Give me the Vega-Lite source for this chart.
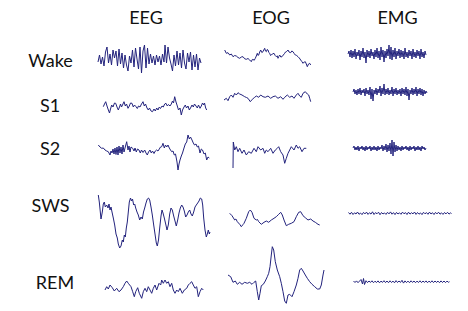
{
"$schema": "https://vega.github.io/schema/vega-lite/v6.json",
"background": "white",
"padding": 0,
"columns": 4,
"spacing": {"row": 0, "column": 10},
"align": "each",
"bounds": "flush",
"config": {"view": {"stroke": null}, "line": {"color": "#23237d", "strokeWidth": 1}, "text": {"font": "Lato", "fontSize": 18, "color": "#111111"}},
"datasets": {
"wakeEEG": [{"t":2,"v":-2},{"t":3.5,"v":5},{"t":5,"v":-4},{"t":6.5,"v":3},{"t":8,"v":-6},{"t":9.5,"v":8},{"t":11,"v":13},{"t":12.5,"v":-3},{"t":14,"v":6},{"t":15.5,"v":-5},{"t":17,"v":10},{"t":18.5,"v":2},{"t":20,"v":9},{"t":21.5,"v":-6},{"t":23,"v":11},{"t":24.5,"v":-4},{"t":26,"v":7},{"t":27.5,"v":-8},{"t":29,"v":5},{"t":30.5,"v":-5},{"t":32,"v":-11},{"t":33.5,"v":4},{"t":35,"v":-3},{"t":36.5,"v":10},{"t":38,"v":-7},{"t":39.5,"v":12},{"t":41,"v":1},{"t":42.5,"v":-9},{"t":44,"v":13},{"t":45.5,"v":-13},{"t":47,"v":9},{"t":48.5,"v":15},{"t":50,"v":-8},{"t":51.5,"v":12},{"t":53,"v":-4},{"t":54.5,"v":6},{"t":56,"v":-3},{"t":57.5,"v":4},{"t":59,"v":-5},{"t":60.5,"v":5},{"t":62,"v":-2},{"t":63.5,"v":4},{"t":65,"v":-5},{"t":66.5,"v":6},{"t":68,"v":-2},{"t":69,"v":15},{"t":70.5,"v":-3},{"t":72,"v":13},{"t":73.5,"v":2},{"t":75,"v":-4},{"t":76.5,"v":-11},{"t":78,"v":5},{"t":79.5,"v":-6},{"t":81,"v":9},{"t":82.5,"v":-5},{"t":84,"v":7},{"t":85.5,"v":-8},{"t":87,"v":10},{"t":88.5,"v":-3},{"t":90,"v":-9},{"t":91.5,"v":7},{"t":93,"v":-2},{"t":94.5,"v":8},{"t":96,"v":-10},{"t":97.5,"v":5},{"t":99,"v":-7},{"t":100.5,"v":6},{"t":102,"v":-10},{"t":103.5,"v":2},{"t":105,"v":-3}],
"s1EEG": [{"t":7.3,"v":-0.7},{"t":8.5,"v":2},{"t":9.7,"v":4.3},{"t":11,"v":0},{"t":12,"v":-3},{"t":13.5,"v":-7},{"t":14.5,"v":-3},{"t":15.7,"v":1},{"t":17,"v":-1},{"t":18.5,"v":3},{"t":19.7,"v":2.7},{"t":21,"v":-1},{"t":22.3,"v":-4},{"t":23.5,"v":-1},{"t":24.5,"v":2},{"t":25.5,"v":-1},{"t":26.5,"v":1},{"t":28,"v":4.3},{"t":29.3,"v":0},{"t":30.5,"v":2},{"t":32,"v":-2.3},{"t":33.3,"v":0},{"t":34.5,"v":3},{"t":36,"v":2.7},{"t":37.3,"v":-1},{"t":38.5,"v":1},{"t":40,"v":-0.7},{"t":41.3,"v":-2.5},{"t":42.5,"v":0},{"t":44,"v":-1},{"t":45.5,"v":2},{"t":47,"v":4.3},{"t":48.3,"v":0},{"t":49.5,"v":2},{"t":51,"v":-2},{"t":52.3,"v":-4},{"t":53.5,"v":-2},{"t":55,"v":-5},{"t":56.5,"v":-5.7},{"t":58,"v":-3},{"t":59.3,"v":-5},{"t":60.7,"v":-2},{"t":62,"v":-4},{"t":63.3,"v":-1},{"t":64.5,"v":-2.5},{"t":66,"v":0},{"t":67.3,"v":-1},{"t":68.7,"v":2},{"t":70,"v":2.7},{"t":71.3,"v":0},{"t":72.5,"v":1.5},{"t":74,"v":0},{"t":75.3,"v":2},{"t":76.5,"v":5},{"t":77.5,"v":3},{"t":78.7,"v":9.3},{"t":80,"v":4},{"t":81.3,"v":0},{"t":82.5,"v":-4},{"t":84,"v":-2},{"t":85.3,"v":-9},{"t":86.5,"v":-4},{"t":88,"v":-1},{"t":89.3,"v":1},{"t":90.5,"v":-2},{"t":92,"v":0},{"t":93.3,"v":-4},{"t":94.5,"v":-2},{"t":96,"v":1},{"t":97.3,"v":-1},{"t":98.5,"v":2},{"t":100,"v":0},{"t":101.3,"v":-2},{"t":102.5,"v":1},{"t":104,"v":-2.3},{"t":105.3,"v":0},{"t":106.5,"v":3},{"t":107.7,"v":1},{"t":108.5,"v":3},{"t":109.7,"v":-2},{"t":110.7,"v":-4}],
"s2EEG": [{"t":2.3,"v":7},{"t":4,"v":5},{"t":5.7,"v":3.7},{"t":7.3,"v":4},{"t":9,"v":2},{"t":10.7,"v":1},{"t":12.3,"v":0.3},{"t":14,"v":-3},{"t":15,"v":1},{"t":16,"v":-1},{"t":17,"v":3},{"t":18,"v":-2},{"t":19,"v":4},{"t":20,"v":-2.5},{"t":21,"v":5},{"t":22,"v":-3},{"t":23,"v":6},{"t":24,"v":-1},{"t":25,"v":5},{"t":26,"v":-2},{"t":27,"v":7},{"t":28,"v":0},{"t":29,"v":4},{"t":30.7,"v":10.3},{"t":32,"v":2},{"t":33,"v":6},{"t":34,"v":0},{"t":35,"v":5},{"t":36.7,"v":3.7},{"t":38,"v":1},{"t":39,"v":4},{"t":40.3,"v":0},{"t":41.5,"v":3},{"t":43,"v":2},{"t":44.3,"v":-1},{"t":45.5,"v":2},{"t":47,"v":-0.5},{"t":48.7,"v":2},{"t":50,"v":-1},{"t":51.3,"v":-3},{"t":52.5,"v":0},{"t":54,"v":2},{"t":55.3,"v":-1},{"t":56.5,"v":1},{"t":58,"v":-1.5},{"t":59.3,"v":1},{"t":60.5,"v":2},{"t":62,"v":1},{"t":63.3,"v":3},{"t":64.5,"v":5},{"t":65.7,"v":5.3},{"t":67,"v":8.7},{"t":68.3,"v":4},{"t":69.5,"v":7},{"t":70.7,"v":5},{"t":72,"v":7},{"t":73.3,"v":4},{"t":74.5,"v":2},{"t":75.7,"v":0.3},{"t":77,"v":1},{"t":78.3,"v":-3},{"t":79.5,"v":-2},{"t":81,"v":-10},{"t":82,"v":-18},{"t":83,"v":-12},{"t":84,"v":-8},{"t":85.3,"v":-4},{"t":86.5,"v":-1},{"t":88,"v":4},{"t":89.3,"v":8},{"t":90.7,"v":10},{"t":92,"v":17},{"t":93.3,"v":13},{"t":94.5,"v":15},{"t":96,"v":12},{"t":97.3,"v":9},{"t":98.5,"v":7},{"t":100,"v":8},{"t":101.3,"v":5},{"t":102.5,"v":6},{"t":104,"v":-1},{"t":105.3,"v":3},{"t":106.5,"v":2},{"t":108,"v":-2},{"t":109.3,"v":-1},{"t":110.7,"v":-8},{"t":112,"v":-5},{"t":113.3,"v":-6}],
"swsEEG": [{"t":2.3,"v":15},{"t":3.3,"v":8},{"t":4,"v":1},{"t":5,"v":-9},{"t":6.3,"v":-2},{"t":7.3,"v":6},{"t":8.3,"v":8},{"t":9.3,"v":3},{"t":10.7,"v":5},{"t":12,"v":2},{"t":13,"v":6},{"t":14,"v":0},{"t":15,"v":3},{"t":16,"v":-2},{"t":17.3,"v":-8},{"t":18.7,"v":-15},{"t":20,"v":-24},{"t":21.3,"v":-28},{"t":22.3,"v":-34},{"t":23.7,"v":-38},{"t":25,"v":-36},{"t":26.3,"v":-30},{"t":27.3,"v":-32},{"t":28.3,"v":-25},{"t":29.3,"v":-27},{"t":30.3,"v":-18},{"t":31.3,"v":-12},{"t":32.3,"v":-2},{"t":33.3,"v":8},{"t":34.5,"v":12},{"t":35.5,"v":9},{"t":36.5,"v":11},{"t":37.7,"v":5},{"t":38.7,"v":6},{"t":39.7,"v":2},{"t":41,"v":-2},{"t":42.3,"v":-5},{"t":43.7,"v":-10},{"t":45,"v":-7},{"t":46.3,"v":-9},{"t":47.5,"v":-2},{"t":48.7,"v":2},{"t":50,"v":7},{"t":51.3,"v":11},{"t":52.5,"v":12},{"t":53.7,"v":10},{"t":55,"v":3},{"t":56.3,"v":-5},{"t":57.7,"v":-15},{"t":59,"v":-24},{"t":60.3,"v":-33},{"t":61.3,"v":-36},{"t":62.5,"v":-30},{"t":63.7,"v":-18},{"t":65,"v":-6},{"t":66,"v":0},{"t":67,"v":-3},{"t":68.3,"v":-8},{"t":69.7,"v":-14},{"t":71,"v":-20},{"t":72.3,"v":-15},{"t":73.7,"v":-4},{"t":75,"v":2},{"t":76.3,"v":0},{"t":77.7,"v":-6},{"t":79,"v":-11},{"t":80.3,"v":-16},{"t":81.7,"v":-10},{"t":83,"v":-3},{"t":84.3,"v":2},{"t":85.7,"v":5},{"t":87,"v":3},{"t":88.3,"v":-1},{"t":89.7,"v":-7},{"t":91,"v":-5},{"t":92.3,"v":-2},{"t":93.7,"v":0},{"t":95,"v":-4},{"t":96.3,"v":-6},{"t":97.7,"v":-2},{"t":99,"v":3},{"t":100.3,"v":5},{"t":101.7,"v":7},{"t":103,"v":9},{"t":104.3,"v":12},{"t":105.7,"v":11},{"t":106.7,"v":5},{"t":107.7,"v":-8},{"t":109,"v":-20},{"t":110.3,"v":-27},{"t":111.3,"v":-24},{"t":112.3,"v":-20},{"t":113.3,"v":-24},{"t":114,"v":-22}],
"remEEG": [{"t":9,"v":-12.5},{"t":10.7,"v":-9.2},{"t":12.3,"v":-11.5},{"t":14,"v":-7.5},{"t":16.3,"v":-10.2},{"t":18.3,"v":-13.5},{"t":20.7,"v":-10.8},{"t":23,"v":-14.2},{"t":25,"v":-12.5},{"t":27.3,"v":-9.2},{"t":29,"v":-5.8},{"t":30.7,"v":-3.5},{"t":32.3,"v":-5.8},{"t":35,"v":-9.2},{"t":36.7,"v":-14.2},{"t":38.3,"v":-19.2},{"t":39.7,"v":-14.2},{"t":41.7,"v":-10.2},{"t":43.3,"v":-15.8},{"t":45.7,"v":-20.8},{"t":47.3,"v":-14.2},{"t":49,"v":-10.8},{"t":50.7,"v":-14.2},{"t":52.3,"v":-9.2},{"t":54,"v":-12.5},{"t":55.7,"v":-15.8},{"t":57.3,"v":-10.8},{"t":59,"v":-7.5},{"t":60.7,"v":-12.5},{"t":63,"v":-5.8},{"t":64.7,"v":-7.5},{"t":65.7,"v":-2.5},{"t":67.3,"v":-5.8},{"t":69,"v":-2.5},{"t":70.7,"v":-5.8},{"t":72.3,"v":-4.2},{"t":74,"v":-9.2},{"t":75.7,"v":-5.8},{"t":77.3,"v":-12.5},{"t":79,"v":-15.8},{"t":80.7,"v":-12.5},{"t":82.3,"v":-14.2},{"t":84,"v":-10.8},{"t":86.3,"v":-15.8},{"t":88.3,"v":-12.5},{"t":90.7,"v":-10.8},{"t":92.3,"v":-7.5},{"t":94,"v":-5.8},{"t":95.7,"v":-4.2},{"t":97.3,"v":-7.5},{"t":99,"v":-10.8},{"t":100.7,"v":-9.2},{"t":102.3,"v":-19.2},{"t":104,"v":-14.2},{"t":105.7,"v":-10.8},{"t":107.3,"v":-12.5}],
"wakeEOG": [{"t":2.7,"v":10},{"t":4.3,"v":6.7},{"t":6,"v":7.3},{"t":7.7,"v":5},{"t":9.3,"v":6},{"t":11,"v":3.3},{"t":12.7,"v":4.5},{"t":14.3,"v":4},{"t":16,"v":2.5},{"t":17.7,"v":1.7},{"t":19.3,"v":3},{"t":21,"v":3.3},{"t":22.7,"v":1.2},{"t":24.3,"v":0.7},{"t":26,"v":1.5},{"t":27.7,"v":0},{"t":29.3,"v":-1.7},{"t":30.3,"v":0.5},{"t":31,"v":0.7},{"t":32.2,"v":-0.3},{"t":33.3,"v":1.7},{"t":34.3,"v":4},{"t":35.3,"v":6.7},{"t":36,"v":4.5},{"t":36.7,"v":5},{"t":37.7,"v":8},{"t":38.7,"v":10},{"t":39.8,"v":7.5},{"t":41,"v":8.3},{"t":41.8,"v":10},{"t":42.7,"v":11.7},{"t":43.5,"v":9},{"t":44.3,"v":8.3},{"t":45.2,"v":10.5},{"t":46,"v":10},{"t":46.8,"v":7.5},{"t":47.7,"v":6.7},{"t":48.5,"v":4.5},{"t":49.3,"v":5},{"t":50.3,"v":6},{"t":52,"v":6.7},{"t":53.2,"v":4.5},{"t":54.3,"v":3.3},{"t":55.2,"v":4.2},{"t":56,"v":1.7},{"t":56.8,"v":3.5},{"t":57.7,"v":5},{"t":58.8,"v":3},{"t":60,"v":3.3},{"t":61.3,"v":5},{"t":62.7,"v":6.7},{"t":63.5,"v":8},{"t":64.3,"v":8.3},{"t":65.2,"v":9},{"t":66,"v":10},{"t":67,"v":8},{"t":68.7,"v":7.3},{"t":69.8,"v":9},{"t":71,"v":8.3},{"t":72.2,"v":6.5},{"t":73.3,"v":5},{"t":74.7,"v":4.5},{"t":76,"v":3.3},{"t":77.3,"v":2},{"t":78.7,"v":0},{"t":79.8,"v":-1.5},{"t":81,"v":-3.3},{"t":82.2,"v":-2},{"t":83.3,"v":-1.7},{"t":84.3,"v":-4},{"t":85.3,"v":-6.7},{"t":86.5,"v":-4},{"t":87.7,"v":-3.3},{"t":88.7,"v":-5}],
"s1EOG": [{"t":2,"v":6},{"t":4.3,"v":7.7},{"t":6,"v":5.3},{"t":7.7,"v":9.3},{"t":9.3,"v":11},{"t":11,"v":8.7},{"t":12.7,"v":12.7},{"t":14.3,"v":11},{"t":16,"v":13.3},{"t":17.7,"v":12},{"t":20,"v":11},{"t":22.7,"v":9.3},{"t":24.5,"v":8.5},{"t":26,"v":7.7},{"t":28.3,"v":4.3},{"t":30.3,"v":6.7},{"t":32.7,"v":8.7},{"t":34.3,"v":10},{"t":36.7,"v":8.7},{"t":38.7,"v":11},{"t":41,"v":9.3},{"t":43.3,"v":8.7},{"t":46,"v":10},{"t":48.7,"v":7.7},{"t":51,"v":9.3},{"t":53.3,"v":10},{"t":56,"v":7.7},{"t":58.7,"v":9.3},{"t":61,"v":6.7},{"t":62.7,"v":8.7},{"t":65.3,"v":11},{"t":67.7,"v":8.7},{"t":70,"v":10},{"t":72,"v":7.7},{"t":74.3,"v":11},{"t":76,"v":12.7},{"t":77.7,"v":10},{"t":79.3,"v":8.7},{"t":81,"v":12.7},{"t":83.3,"v":14.3},{"t":85.3,"v":12},{"t":86.7,"v":11},{"t":87.7,"v":7.7},{"t":88.7,"v":4.3}],
"s2EOG": [{"t":11,"v":-16},{"t":11.3,"v":10},{"t":12.7,"v":2},{"t":14.3,"v":5.3},{"t":16,"v":0.3},{"t":17.7,"v":3.7},{"t":20,"v":-1.3},{"t":22,"v":2},{"t":24.3,"v":-3},{"t":26.7,"v":0.3},{"t":29.3,"v":-1.3},{"t":32,"v":3.7},{"t":34.3,"v":0.3},{"t":36,"v":5.3},{"t":38.7,"v":2},{"t":41,"v":3.7},{"t":42.7,"v":-1.3},{"t":44.3,"v":2},{"t":46,"v":0.3},{"t":48.7,"v":3.7},{"t":51,"v":-1.3},{"t":53.3,"v":2},{"t":55.3,"v":3.7},{"t":56.7,"v":5.3},{"t":58.7,"v":0.3},{"t":61,"v":-3},{"t":62.7,"v":-11.3},{"t":64.3,"v":-6.3},{"t":66,"v":-1.3},{"t":67.7,"v":2},{"t":69.3,"v":5.3},{"t":72,"v":2},{"t":74.3,"v":7},{"t":76,"v":3.7},{"t":77.7,"v":5.3},{"t":80,"v":0.3},{"t":82,"v":3.7},{"t":84.3,"v":3.7}],
"swsEOG": [{"t":7.7,"v":-3.3},{"t":10,"v":-5.7},{"t":12.7,"v":-10},{"t":13.9,"v":-9},{"t":15.3,"v":-11.7},{"t":17.7,"v":-14.3},{"t":19.3,"v":-16.7},{"t":21,"v":-14.5},{"t":22,"v":-13.3},{"t":24.3,"v":-8.3},{"t":26.7,"v":-1.7},{"t":28.3,"v":0},{"t":30,"v":-2.3},{"t":32,"v":-8.3},{"t":34.3,"v":-10},{"t":35.5,"v":-9.5},{"t":36.7,"v":-11.7},{"t":39.3,"v":-14.3},{"t":42,"v":-12.3},{"t":44.3,"v":-11},{"t":46.7,"v":-12.3},{"t":49.3,"v":-10},{"t":52,"v":-8.3},{"t":54.3,"v":-6.7},{"t":56.7,"v":-4.3},{"t":58.7,"v":-2.3},{"t":60.3,"v":-5},{"t":62,"v":-10},{"t":64.3,"v":-15.7},{"t":66.7,"v":-14.3},{"t":69.3,"v":-13.3},{"t":72,"v":-11.7},{"t":74.3,"v":-6.7},{"t":76.7,"v":-2.3},{"t":78.7,"v":-1.7},{"t":81,"v":-5.7},{"t":83.3,"v":-7.7},{"t":86,"v":-10},{"t":88.7,"v":-9},{"t":91,"v":-11},{"t":93.3,"v":-12.3},{"t":96,"v":-14.3},{"t":97.7,"v":-15}],
"remEOG": [{"t":6,"v":2.5},{"t":8.7,"v":0.8},{"t":11,"v":-4.8},{"t":13.3,"v":-3.5},{"t":15.3,"v":-6.8},{"t":17.7,"v":-4.8},{"t":20,"v":-6.8},{"t":22.7,"v":-4.8},{"t":25.3,"v":-5.8},{"t":27.7,"v":-4.8},{"t":30,"v":-6.8},{"t":32,"v":-4.8},{"t":33.7,"v":-3.5},{"t":35.3,"v":-14.2},{"t":36.7,"v":-22.5},{"t":38,"v":-15.8},{"t":39.3,"v":-8.2},{"t":41.3,"v":-6.8},{"t":43.3,"v":-3.5},{"t":45.3,"v":0.8},{"t":46.7,"v":4.2},{"t":48,"v":10.8},{"t":49.3,"v":22.5},{"t":50.3,"v":30.8},{"t":51.7,"v":27.5},{"t":53.3,"v":15.8},{"t":55.3,"v":7.5},{"t":57.7,"v":0.8},{"t":59.3,"v":-5.8},{"t":61,"v":-14.2},{"t":62.7,"v":-23.5},{"t":64.3,"v":-25.8},{"t":66,"v":-17.5},{"t":67.7,"v":-16.8},{"t":70,"v":-19.2},{"t":72,"v":-14.2},{"t":74.3,"v":-7.5},{"t":76,"v":-0.8},{"t":77.7,"v":7.5},{"t":79.3,"v":9.2},{"t":81,"v":6.5},{"t":83.3,"v":2.5},{"t":85.3,"v":-0.8},{"t":87.7,"v":-4.2},{"t":90,"v":-6.8},{"t":92.7,"v":-9.2},{"t":95.3,"v":-11.5},{"t":97.7,"v":-11.5},{"t":99.3,"v":-7.5},{"t":101,"v":2.5},{"t":102,"v":7.5}],
"wakeEMG": [{"t":0,"v":6},{"t":1,"v":9},{"t":2,"v":3},{"t":3,"v":10},{"t":4,"v":2},{"t":5,"v":9},{"t":6,"v":3},{"t":7,"v":11},{"t":8,"v":1},{"t":9,"v":8},{"t":10,"v":4},{"t":11,"v":10},{"t":12,"v":0},{"t":13,"v":9},{"t":14,"v":3},{"t":15,"v":12},{"t":16,"v":2},{"t":17,"v":8},{"t":18,"v":-3},{"t":19,"v":10},{"t":20,"v":3},{"t":21,"v":9},{"t":22,"v":2},{"t":23,"v":11},{"t":24,"v":4},{"t":25,"v":8},{"t":26,"v":1},{"t":27,"v":10},{"t":28,"v":3},{"t":29,"v":12},{"t":30,"v":2},{"t":31,"v":9},{"t":32,"v":0},{"t":33,"v":13},{"t":34,"v":3},{"t":35,"v":10},{"t":36,"v":-2},{"t":37,"v":9},{"t":38,"v":2},{"t":39,"v":11},{"t":40,"v":4},{"t":41,"v":15},{"t":42,"v":1},{"t":43,"v":13},{"t":44,"v":0},{"t":45,"v":10},{"t":46,"v":3},{"t":47,"v":12},{"t":48,"v":1},{"t":49,"v":9},{"t":50,"v":4},{"t":51,"v":11},{"t":52,"v":2},{"t":53,"v":10},{"t":54,"v":3},{"t":55,"v":9},{"t":56,"v":1},{"t":57,"v":12},{"t":58,"v":3},{"t":59,"v":8},{"t":60,"v":2},{"t":61,"v":10},{"t":62,"v":4},{"t":63,"v":9},{"t":64,"v":1},{"t":65,"v":11},{"t":66,"v":3},{"t":67,"v":8},{"t":68,"v":2},{"t":69,"v":10},{"t":70,"v":4},{"t":71,"v":9},{"t":72,"v":1},{"t":73,"v":11},{"t":74,"v":3},{"t":75,"v":8},{"t":76,"v":2},{"t":77,"v":9},{"t":78,"v":5}],
"s1EMG": [{"t":5,"v":14},{"t":6,"v":17},{"t":7,"v":12},{"t":8,"v":16},{"t":9,"v":11},{"t":10,"v":17},{"t":11,"v":12},{"t":12,"v":18},{"t":13,"v":11},{"t":14,"v":16},{"t":15,"v":13},{"t":16,"v":17},{"t":17,"v":10},{"t":18,"v":18},{"t":19,"v":12},{"t":20,"v":16},{"t":21,"v":11},{"t":22,"v":19},{"t":23,"v":7},{"t":24,"v":17},{"t":25,"v":5},{"t":26,"v":16},{"t":27,"v":12},{"t":28,"v":18},{"t":29,"v":11},{"t":30,"v":17},{"t":31,"v":13},{"t":32,"v":20},{"t":33,"v":10},{"t":34,"v":18},{"t":35,"v":12},{"t":36,"v":22},{"t":37,"v":11},{"t":38,"v":17},{"t":39,"v":12},{"t":40,"v":18},{"t":41,"v":11},{"t":42,"v":16},{"t":43,"v":12},{"t":44,"v":19},{"t":45,"v":10},{"t":46,"v":17},{"t":47,"v":12},{"t":48,"v":18},{"t":49,"v":11},{"t":50,"v":16},{"t":51,"v":12},{"t":52,"v":17},{"t":53,"v":10},{"t":54,"v":18},{"t":55,"v":12},{"t":56,"v":17},{"t":57,"v":11},{"t":58,"v":19},{"t":59,"v":10},{"t":60,"v":17},{"t":61,"v":6},{"t":62,"v":16},{"t":63,"v":12},{"t":64,"v":18},{"t":65,"v":11},{"t":66,"v":17},{"t":67,"v":12},{"t":68,"v":19},{"t":69,"v":10},{"t":70,"v":17},{"t":71,"v":12},{"t":72,"v":18},{"t":73,"v":11},{"t":74,"v":17},{"t":75,"v":10},{"t":76,"v":16},{"t":77,"v":12},{"t":78,"v":15},{"t":79,"v":13}],
"s2EMG": [{"t":5,"v":4},{"t":6,"v":6},{"t":7,"v":2},{"t":8,"v":5},{"t":9,"v":2},{"t":10,"v":6},{"t":11,"v":1},{"t":12,"v":5},{"t":13,"v":3},{"t":14,"v":6},{"t":15,"v":2},{"t":16,"v":5},{"t":17,"v":1},{"t":18,"v":6},{"t":19,"v":2},{"t":20,"v":5},{"t":21,"v":3},{"t":22,"v":6},{"t":23,"v":1},{"t":24,"v":5},{"t":25,"v":2},{"t":26,"v":6},{"t":27,"v":2},{"t":28,"v":5},{"t":29,"v":1},{"t":30,"v":6},{"t":31,"v":2},{"t":32,"v":5},{"t":33,"v":3},{"t":34,"v":7},{"t":35,"v":1},{"t":36,"v":6},{"t":37,"v":2},{"t":38,"v":8},{"t":39,"v":0},{"t":40,"v":7},{"t":41,"v":1},{"t":42,"v":9},{"t":43,"v":-2},{"t":44,"v":12},{"t":45,"v":-4},{"t":46,"v":10},{"t":47,"v":0},{"t":48,"v":7},{"t":49,"v":1},{"t":50,"v":6},{"t":51,"v":2},{"t":52,"v":5},{"t":53,"v":1},{"t":54,"v":6},{"t":55,"v":2},{"t":56,"v":5},{"t":57,"v":3},{"t":58,"v":6},{"t":59,"v":2},{"t":60,"v":5},{"t":61,"v":1},{"t":62,"v":6},{"t":63,"v":2},{"t":64,"v":5},{"t":65,"v":3},{"t":66,"v":6},{"t":67,"v":1},{"t":68,"v":5},{"t":69,"v":2},{"t":70,"v":6},{"t":71,"v":2},{"t":72,"v":5},{"t":73,"v":1},{"t":74,"v":6},{"t":75,"v":3},{"t":76,"v":5},{"t":77,"v":2},{"t":78,"v":4}],
"swsEMG": [{"t":0.5,"v":-2.5},{"t":2,"v":-4.2},{"t":3.5,"v":-2.3},{"t":5,"v":-4.5},{"t":6.5,"v":-2.8},{"t":8,"v":-4},{"t":9.5,"v":-2},{"t":11,"v":-4.3},{"t":12.5,"v":-3},{"t":14,"v":-4.6},{"t":15.5,"v":-2.4},{"t":17,"v":-3.9},{"t":18.5,"v":-2.1},{"t":20,"v":-4.4},{"t":21.5,"v":-2.7},{"t":23,"v":-4.1},{"t":24.5,"v":-1.8},{"t":26,"v":-4.5},{"t":27.5,"v":-2.6},{"t":29,"v":-3.8},{"t":30.5,"v":-2.2},{"t":32,"v":-4.7},{"t":33.5,"v":-2.5},{"t":35,"v":-4},{"t":36.5,"v":-2.9},{"t":38,"v":-4.4},{"t":39.5,"v":-2.3},{"t":41,"v":-3.9},{"t":42.5,"v":-1.9},{"t":44,"v":-4.2},{"t":45.5,"v":-2.6},{"t":47,"v":-4.6},{"t":48.5,"v":-2.4},{"t":50,"v":-4},{"t":51.5,"v":-2.8},{"t":53,"v":-4.3},{"t":54.5,"v":-2.1},{"t":56,"v":-3.8},{"t":57.5,"v":-2.6},{"t":59,"v":-4.5},{"t":60.5,"v":-2.2},{"t":62,"v":-4.1},{"t":63.5,"v":-2.7},{"t":65,"v":-3.9},{"t":66.5,"v":-2},{"t":68,"v":-4.4},{"t":69.5,"v":-2.5},{"t":71,"v":-4.2},{"t":72.5,"v":-2.9},{"t":74,"v":-4.6},{"t":75.5,"v":-2.3},{"t":77,"v":-3.8},{"t":78.5,"v":-2.6},{"t":80,"v":-4.3},{"t":81.5,"v":-2.1},{"t":83,"v":-4},{"t":84.5,"v":-2.7},{"t":86,"v":-4.5},{"t":87.5,"v":-2.4},{"t":89,"v":-3.9},{"t":90.5,"v":-2.2},{"t":92,"v":-4.2},{"t":93.5,"v":-2.8},{"t":95,"v":-4.4},{"t":96.5,"v":-2.5},{"t":98,"v":-3.9},{"t":99.5,"v":-2.3},{"t":101,"v":-4.1},{"t":102.5,"v":-2.9},{"t":103.5,"v":-3.5}],
"remEMG": [{"t":5.5,"v":-3.5},{"t":7,"v":-5},{"t":8.5,"v":-3.4},{"t":10,"v":-5.2},{"t":11.5,"v":-3.6},{"t":13,"v":-2},{"t":14.5,"v":-6.5},{"t":15.5,"v":-1},{"t":16.5,"v":-7},{"t":18,"v":-3.2},{"t":19.5,"v":-5.1},{"t":21,"v":-3.5},{"t":22.5,"v":-4.9},{"t":24,"v":-3.3},{"t":25.5,"v":-5.2},{"t":27,"v":-3.7},{"t":28.5,"v":-5},{"t":30,"v":-3.4},{"t":31.5,"v":-5.3},{"t":33,"v":-3.6},{"t":34.5,"v":-4.9},{"t":36,"v":-3.2},{"t":37.5,"v":-5.1},{"t":39,"v":-3.5},{"t":40.5,"v":-5.2},{"t":42,"v":-3.3},{"t":43.5,"v":-5},{"t":45,"v":-3.6},{"t":46.5,"v":-5.3},{"t":48,"v":-3.1},{"t":49.5,"v":-5},{"t":51,"v":-3.5},{"t":52.5,"v":-4.9},{"t":54,"v":-2.8},{"t":55.5,"v":-5.6},{"t":57,"v":-3.4},{"t":58.5,"v":-5.1},{"t":60,"v":-3.6},{"t":61.5,"v":-5.2},{"t":63,"v":-3.3},{"t":64.5,"v":-4.9},{"t":66,"v":-3.5},{"t":67.5,"v":-5.2},{"t":69,"v":-3.6},{"t":70.5,"v":-5},{"t":72,"v":-3.3},{"t":73.5,"v":-5.1},{"t":75,"v":-3.5},{"t":76.5,"v":-4.9},{"t":78,"v":-3.4},{"t":79.5,"v":-5.2},{"t":81,"v":-3.6},{"t":82.5,"v":-5},{"t":84,"v":-3.3},{"t":85.5,"v":-5.1},{"t":87,"v":-3.5},{"t":88.5,"v":-4.9},{"t":90,"v":-3.6},{"t":91.5,"v":-5.2},{"t":93,"v":-3.4},{"t":94.5,"v":-5},{"t":96,"v":-3.5},{"t":97.5,"v":-5.1},{"t":99,"v":-3.6},{"t":100.5,"v":-4.8},{"t":101.5,"v":-4.2}]
},
"concat": [
 {"width": 86, "height": 36, "data": {"values": [{"name": ""}]}, "mark": {"type": "text"}, "encoding": {"text": {"field": "name", "type": "nominal"}}},
 {"width": 116, "height": 36, "data": {"values": [{"name": "EEG"}]}, "mark": {"type": "text", "dx": -8, "dy": 0.5}, "encoding": {"text": {"field": "name", "type": "nominal"}}},
 {"width": 116, "height": 36, "data": {"values": [{"name": "EOG"}]}, "mark": {"type": "text", "dx": -9, "dy": 0.5}, "encoding": {"text": {"field": "name", "type": "nominal"}}},
 {"width": 116, "height": 36, "data": {"values": [{"name": "EMG"}]}, "mark": {"type": "text", "dx": -8.5, "dy": 0.5}, "encoding": {"text": {"field": "name", "type": "nominal"}}},

 {"width": 86, "height": 48, "data": {"values": [{"stage": "Wake"}]}, "mark": {"type": "text", "dx": 7.5, "dy": 1.5}, "encoding": {"text": {"field": "stage", "type": "nominal"}}},
 {"width": 116, "height": 48, "data": {"name": "wakeEEG"}, "mark": "line", "encoding": {"x": {"field": "t", "type": "quantitative", "scale": {"domain": [0, 116]}, "axis": null}, "y": {"field": "v", "type": "quantitative", "scale": {"domain": [-24, 24]}, "axis": null}}},
 {"width": 116, "height": 48, "data": {"name": "wakeEOG"}, "mark": "line", "encoding": {"x": {"field": "t", "type": "quantitative", "scale": {"domain": [0, 116]}, "axis": null}, "y": {"field": "v", "type": "quantitative", "scale": {"domain": [-24, 24]}, "axis": null}}},
 {"width": 116, "height": 48, "data": {"name": "wakeEMG"}, "mark": "line", "encoding": {"x": {"field": "t", "type": "quantitative", "scale": {"domain": [0, 116]}, "axis": null}, "y": {"field": "v", "type": "quantitative", "scale": {"domain": [-24, 24]}, "axis": null}}},

 {"width": 86, "height": 44, "data": {"values": [{"stage": "S1"}]}, "mark": {"type": "text", "dx": 7, "dy": 0.5}, "encoding": {"text": {"field": "stage", "type": "nominal"}}},
 {"width": 116, "height": 44, "data": {"name": "s1EEG"}, "mark": "line", "encoding": {"x": {"field": "t", "type": "quantitative", "scale": {"domain": [0, 116]}, "axis": null}, "y": {"field": "v", "type": "quantitative", "scale": {"domain": [-22, 22]}, "axis": null}}},
 {"width": 116, "height": 44, "data": {"name": "s1EOG"}, "mark": "line", "encoding": {"x": {"field": "t", "type": "quantitative", "scale": {"domain": [0, 116]}, "axis": null}, "y": {"field": "v", "type": "quantitative", "scale": {"domain": [-22, 22]}, "axis": null}}},
 {"width": 116, "height": 44, "data": {"name": "s1EMG"}, "mark": "line", "encoding": {"x": {"field": "t", "type": "quantitative", "scale": {"domain": [0, 116]}, "axis": null}, "y": {"field": "v", "type": "quantitative", "scale": {"domain": [-22, 22]}, "axis": null}}},

 {"width": 86, "height": 48, "data": {"values": [{"stage": "S2"}]}, "mark": {"type": "text", "dx": 7, "dy": -2}, "encoding": {"text": {"field": "stage", "type": "nominal"}}},
 {"width": 116, "height": 48, "data": {"name": "s2EEG"}, "mark": "line", "encoding": {"x": {"field": "t", "type": "quantitative", "scale": {"domain": [0, 116]}, "axis": null}, "y": {"field": "v", "type": "quantitative", "scale": {"domain": [-24, 24]}, "axis": null}}},
 {"width": 116, "height": 48, "data": {"name": "s2EOG"}, "mark": "line", "encoding": {"x": {"field": "t", "type": "quantitative", "scale": {"domain": [0, 116]}, "axis": null}, "y": {"field": "v", "type": "quantitative", "scale": {"domain": [-24, 24]}, "axis": null}}},
 {"width": 116, "height": 48, "data": {"name": "s2EMG"}, "mark": "line", "encoding": {"x": {"field": "t", "type": "quantitative", "scale": {"domain": [0, 116]}, "axis": null}, "y": {"field": "v", "type": "quantitative", "scale": {"domain": [-24, 24]}, "axis": null}}},

 {"width": 86, "height": 68, "data": {"values": [{"stage": "SWS"}]}, "mark": {"type": "text", "dx": 7.5, "dy": -3.5}, "encoding": {"text": {"field": "stage", "type": "nominal"}}},
 {"width": 116, "height": 68, "data": {"name": "swsEEG"}, "mark": "line", "encoding": {"x": {"field": "t", "type": "quantitative", "scale": {"domain": [0, 116]}, "axis": null}, "y": {"field": "v", "type": "quantitative", "scale": {"domain": [-34, 34]}, "axis": null}}},
 {"width": 116, "height": 68, "data": {"name": "swsEOG"}, "mark": "line", "encoding": {"x": {"field": "t", "type": "quantitative", "scale": {"domain": [0, 116]}, "axis": null}, "y": {"field": "v", "type": "quantitative", "scale": {"domain": [-34, 34]}, "axis": null}}},
 {"width": 116, "height": 68, "data": {"name": "swsEMG"}, "mark": "line", "encoding": {"x": {"field": "t", "type": "quantitative", "scale": {"domain": [0, 116]}, "axis": null}, "y": {"field": "v", "type": "quantitative", "scale": {"domain": [-34, 34]}, "axis": null}}},

 {"width": 86, "height": 67, "data": {"values": [{"stage": "REM"}]}, "mark": {"type": "text", "dx": 12, "dy": 6}, "encoding": {"text": {"field": "stage", "type": "nominal"}}},
 {"width": 116, "height": 67, "data": {"name": "remEEG"}, "mark": "line", "encoding": {"x": {"field": "t", "type": "quantitative", "scale": {"domain": [0, 116]}, "axis": null}, "y": {"field": "v", "type": "quantitative", "scale": {"domain": [-33.5, 33.5]}, "axis": null}}},
 {"width": 116, "height": 67, "data": {"name": "remEOG"}, "mark": "line", "encoding": {"x": {"field": "t", "type": "quantitative", "scale": {"domain": [0, 116]}, "axis": null}, "y": {"field": "v", "type": "quantitative", "scale": {"domain": [-33.5, 33.5]}, "axis": null}}},
 {"width": 116, "height": 67, "data": {"name": "remEMG"}, "mark": "line", "encoding": {"x": {"field": "t", "type": "quantitative", "scale": {"domain": [0, 116]}, "axis": null}, "y": {"field": "v", "type": "quantitative", "scale": {"domain": [-33.5, 33.5]}, "axis": null}}}
]
}
